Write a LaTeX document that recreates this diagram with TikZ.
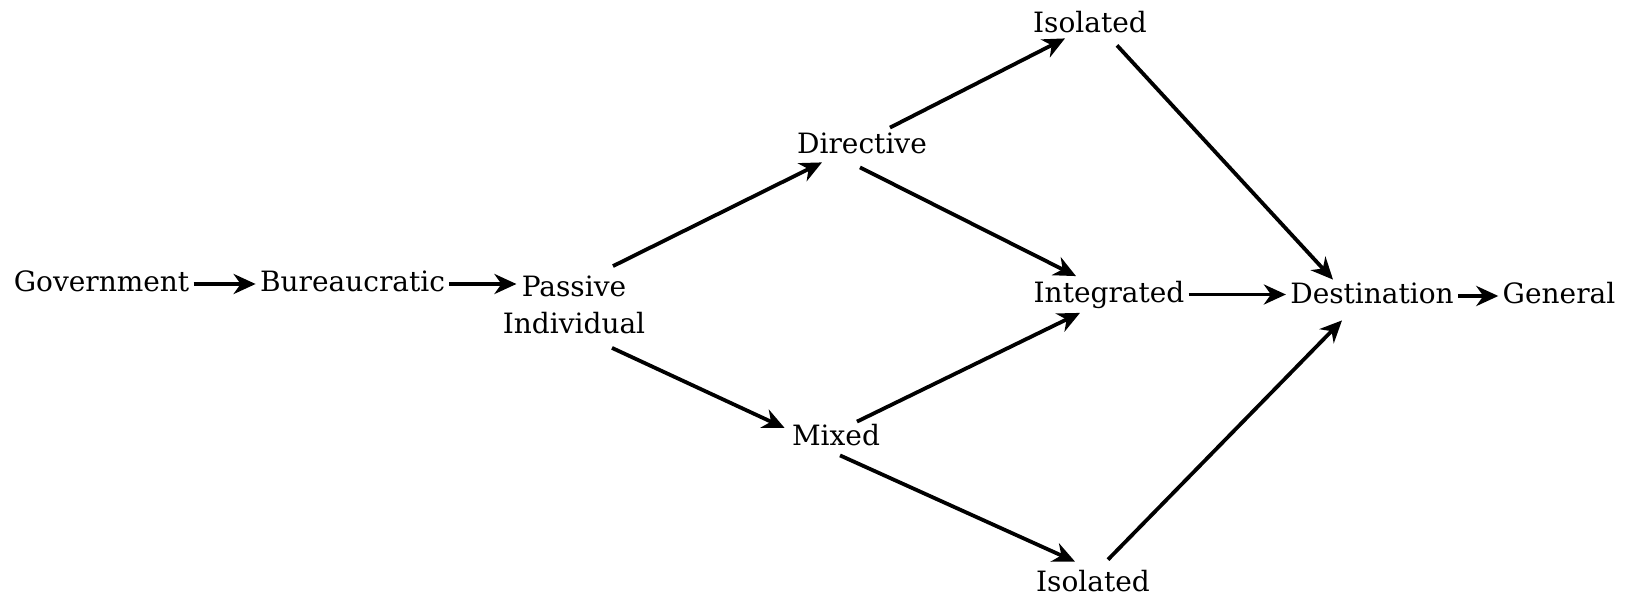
\documentclass[tikz,border=0pt]{standalone}
\usepackage{fontspec}
\setmainfont{DejaVu Serif}
\usetikzlibrary{arrows.meta,calc}
\tikzset{
  stage/.style={inner sep=2pt, font=\fontsize{14}{18.5}\selectfont},
  oneline/.style={stage, text height=11pt, text depth=3pt},
  flow/.style={line width=1.9pt, -{Stealth[length=11pt,width=10pt,inset=3.5pt]}},
}
\begin{document}
\begin{tikzpicture}[x=0.5pt,y=-0.5pt]
\useasboundingbox (0,0) rectangle (1632,598);
\node[oneline]              (gov)  at ( 101.5, 284) {Government};
\node[oneline]              (bur)  at ( 352.5, 284) {Bureaucratic};
\node[stage, align=center]  (pas)  at ( 574, 304.5) {Passive\\Individual};
\node[oneline]              (dir)  at ( 862,   146) {Directive};
\node[oneline]              (mix)  at ( 836,   437) {Mixed};
\node[oneline]              (isot) at (1090,  24.5) {Isolated};
\node[oneline]              (int)  at (1109, 294.5) {Integrated};
\node[oneline]              (isob) at (1093, 583.5) {Isolated};
\node[oneline]              (dest) at (1372,   296) {Destination};
\node[oneline]              (gen)  at (1559,   296) {General};

\draw[flow] (gov.east) -- (bur.west);
\draw[flow] (bur.east) -- ($(pas.west |- bur.east)+(9pt,0)$);
\draw[flow] ([xshift=19.5pt,yshift=2.5pt]pas.north) -- ([xshift=-20pt,yshift=1pt]dir.south);
\draw[flow] ([xshift=19pt,yshift=-5pt]pas.south) -- ([xshift=-1.5pt,yshift=4.5pt]mix.west);
\draw[flow] ([xshift=14pt]dir.north) -- ([xshift=-12.5pt,yshift=2.25pt]isot.south);
\draw[flow] ([xshift=-1pt,yshift=-1.5pt]dir.south) -- ([xshift=-16.5pt]int.north);
\draw[flow] ([xshift=10.5pt,yshift=-1.5pt]mix.north) -- ([xshift=-14.5pt]int.south);
\draw[flow] ([xshift=2pt]mix.south) -- ([xshift=-9pt,yshift=1.75pt]isob.north);
\draw[flow] (int.east) -- (int.east -| dest.west);
\draw[flow] ([xshift=13.5pt,yshift=-1.25pt]isot.south) -- ([xshift=-19.5pt,yshift=-1pt]dest.north);
\draw[flow] ([xshift=7.5pt,yshift=2.75pt]isob.north) -- ([xshift=-15pt,yshift=-3pt]dest.south);
\draw[flow] (dest.east) -- (gen.west);
\end{tikzpicture}
\end{document}
